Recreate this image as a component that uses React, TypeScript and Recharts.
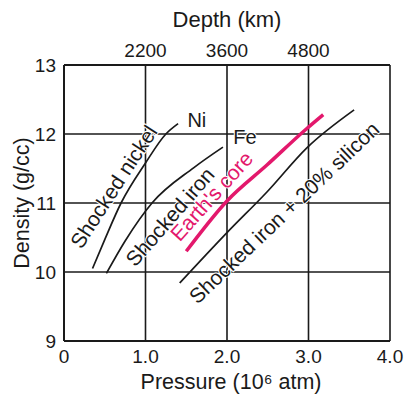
import React from 'react';
import { LineChart, Line, XAxis, YAxis, CartesianGrid, ReferenceDot } from 'recharts';

// pressure (10^6 atm) and density (g/cc)
const nickelPressure = [0.35, 0.5, 0.7, 1.0, 1.25, 1.4];
const nickelDensity = [10.05, 10.47, 11.0, 11.58, 12.0, 12.15];

const ironPressure = [0.52, 0.75, 1.08, 1.59, 1.95];
const ironDensity = [9.98, 10.45, 11.0, 11.51, 11.81];

const corePressure = [1.5, 2.0, 2.49, 2.98, 3.18];
const coreDensity = [10.3, 11.03, 11.55, 12.08, 12.28];

const siliconPressure = [1.42, 2.0, 2.49, 2.98, 3.56];
const siliconDensity = [9.84, 10.57, 11.16, 11.8, 12.35];

const pressureTicks = [0, 1, 2, 3, 4];
const densityTicks = [9, 10, 11, 12, 13];
const depthTicks = [1, 2, 3];
const depthLabels = ['2200', '3600', '4800'];

const curveLabels = [
  { text: 'Shocked nickel', p: 0.61, d: 11.235, angle: -57, color: '#1a1a1a', size: 21 },
  { text: 'Shocked iron', p: 1.3, d: 10.8, angle: -49, color: '#1a1a1a', size: 21 },
  { text: "Earth's core", p: 1.81, d: 11.1, angle: -48, color: '#e3186c', size: 21 },
  { text: 'Shocked iron + 20% silicon', p: 2.7, d: 10.86, angle: -43.5, color: '#1a1a1a', size: 21 },
  { text: 'Ni', p: 1.63, d: 12.2, angle: 0, color: '#1a1a1a', size: 20 },
  { text: 'Fe', p: 2.22, d: 11.96, angle: 0, color: '#1a1a1a', size: 20 },
];

const toPoints = (ps: number[], ds: number[]) => ps.map((p, i) => ({ p, d: ds[i] }));

const font = '"Liberation Sans", Arial, sans-serif';
const ink = '#1a1a1a';

const App = () => {
  return (
    <div style={{ position: 'absolute', left: 0, top: 0, background: '#fff' }}>
      <LineChart width={405} height={395} margin={{ top: 35, right: 15, bottom: 24, left: 24 }}>
        <CartesianGrid xAxisId="p" stroke={ink} strokeWidth={1.6} />
        <XAxis
          xAxisId="p"
          dataKey="p"
          type="number"
          domain={[0, 4]}
          ticks={pressureTicks}
          tickFormatter={(v: number) => (v === 0 ? '0' : v.toFixed(1))}
          tickLine={false}
          tickSize={7}
          axisLine={{ stroke: ink, strokeWidth: 2 }}
          height={30}
          tick={{ fill: ink, fontSize: 19, fontFamily: font }}
          label={{ value: 'Pressure (10⁶ atm)', position: 'bottom', offset: 3, dx: 4, fill: ink, fontSize: 21.5, fontFamily: font }}
        />
        <XAxis
          xAxisId="d"
          dataKey="p"
          orientation="top"
          type="number"
          domain={[0, 4]}
          ticks={depthTicks}
          tickFormatter={(v: number) => depthLabels[depthTicks.indexOf(v)]}
          tickLine={false}
          tickSize={6}
          axisLine={{ stroke: ink, strokeWidth: 2 }}
          height={30}
          tick={{ fill: ink, fontSize: 19, fontFamily: font }}
          label={{ value: 'Depth (km)', position: 'top', offset: 8, fill: ink, fontSize: 22, fontFamily: font }}
        />
        <YAxis
          type="number"
          domain={[9, 13]}
          ticks={densityTicks}
          tickLine={false}
          tickSize={6}
          width={40}
          axisLine={{ stroke: ink, strokeWidth: 2 }}
          tick={{ fill: ink, fontSize: 19, fontFamily: font }}
          label={{
            value: 'Density (g/cc)',
            angle: -90,
            position: 'insideLeft',
            offset: -3,
            fill: ink,
            fontSize: 21.5,
            fontFamily: font,
            style: { textAnchor: 'middle' },
          }}
        />
        <YAxis yAxisId="r" orientation="right" domain={[9, 13]} width={0} tick={false} tickLine={false} axisLine={{ stroke: ink, strokeWidth: 2 }} />
        <Line xAxisId="p" data={toPoints(nickelPressure, nickelDensity)} dataKey="d" type="monotone" stroke={ink} strokeWidth={1.7} dot={false} isAnimationActive={false} />
        <Line xAxisId="p" data={toPoints(ironPressure, ironDensity)} dataKey="d" type="monotone" stroke={ink} strokeWidth={1.7} dot={false} isAnimationActive={false} />
        <Line xAxisId="p" data={toPoints(siliconPressure, siliconDensity)} dataKey="d" type="monotone" stroke={ink} strokeWidth={1.7} dot={false} isAnimationActive={false} />
        <Line xAxisId="d" data={toPoints(corePressure, coreDensity)} dataKey="d" type="monotone" stroke="#e3186c" strokeWidth={3.5} dot={false} isAnimationActive={false} />
        {curveLabels.map((l) => (
          <ReferenceDot
            key={l.text}
            xAxisId="p"
            x={l.p}
            y={l.d}
            r={0}
            shape={(props: any) => (
              <text
                x={props.cx}
                y={props.cy}
                dy="0.35em"
                textAnchor="middle"
                transform={`rotate(${l.angle} ${props.cx} ${props.cy})`}
                fill={l.color}
                stroke="#fff"
                strokeWidth={2}
                paintOrder="stroke"
                fontSize={l.size}
                fontFamily={font}
              >
                {l.text}
              </text>
            )}
          />
        ))}
      </LineChart>
    </div>
  );
};

export default App;
